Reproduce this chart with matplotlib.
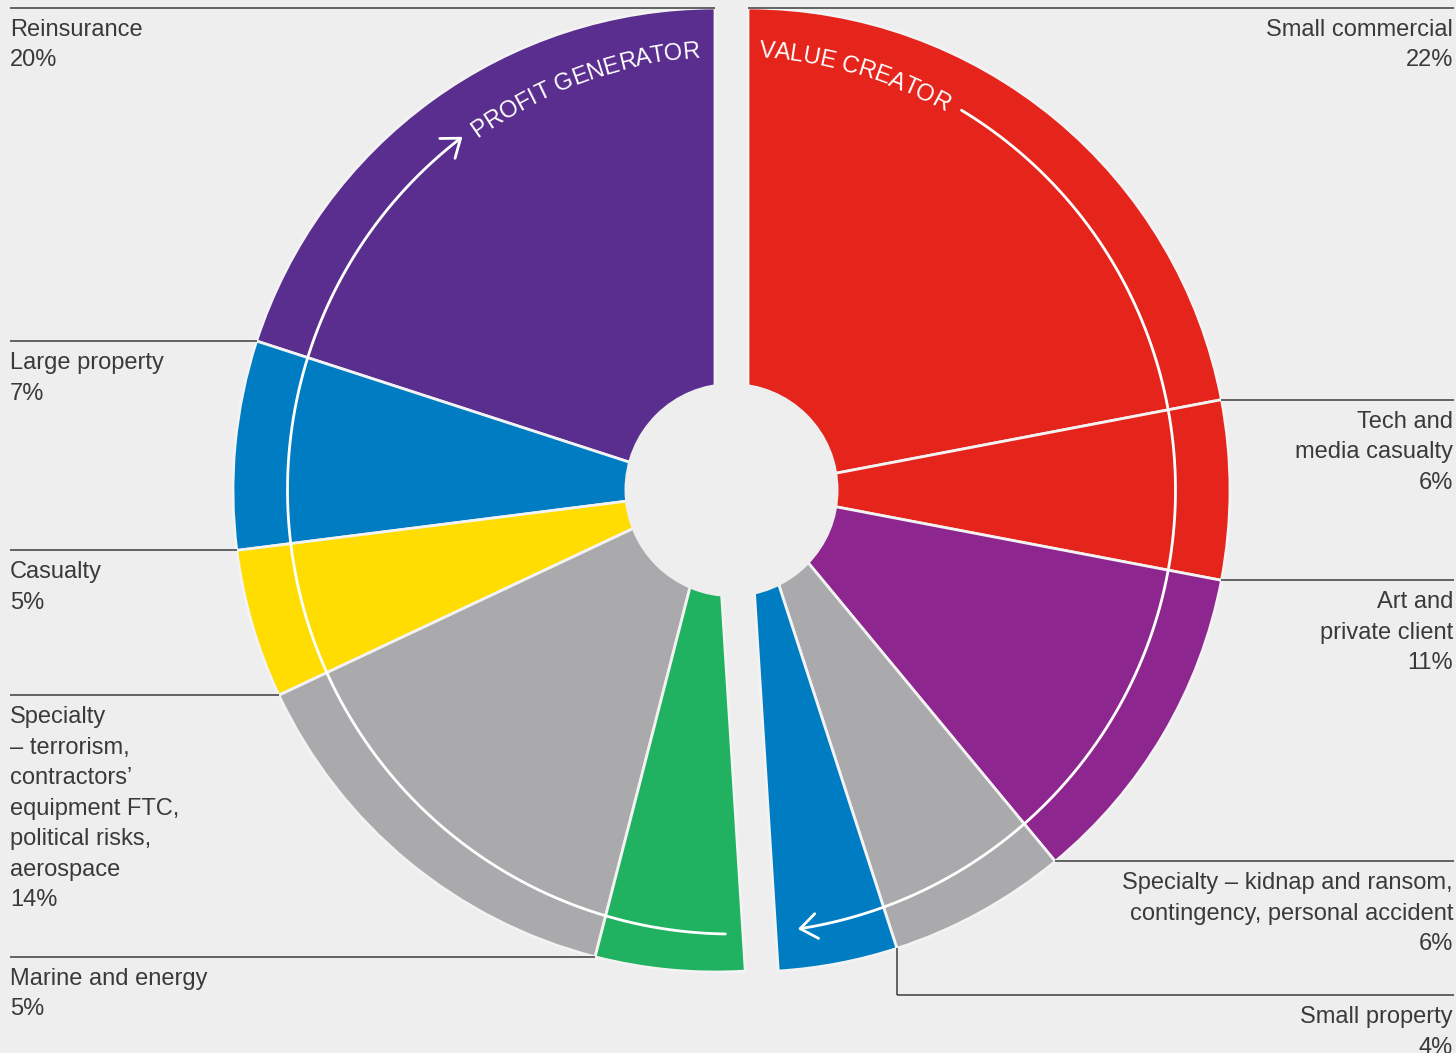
import numpy as np
import matplotlib
matplotlib.use("Agg")
import matplotlib.pyplot as plt
from matplotlib.patches import Circle, FancyArrowPatch
from matplotlib.path import Path
from matplotlib.font_manager import FontProperties

# Value creator half, read clockwise from twelve o'clock
right_names = ["Small commercial",
               "Tech and\nmedia casualty",
               "Art and\nprivate client",
               "Specialty – kidnap and ransom,\ncontingency, personal accident",
               "Small property"]
right_share = [22, 6, 11, 6, 4]
right_colors = ["#E5241B", "#E5241B", "#8E2690", "#AAAAAC", "#007CC3"]

# Profit generator half, read anticlockwise from twelve o'clock
left_names = ["Reinsurance",
              "Large property",
              "Casualty",
              "Specialty\n– terrorism,\ncontractors’\nequipment FTC,\npolitical risks,\naerospace",
              "Marine and energy"]
left_share = [20, 7, 5, 14, 5]
left_colors = ["#5A2E8E", "#007CC3", "#FFDD00", "#AAAAAC", "#21B261"]

right_title = "VALUE CREATOR"
left_title = "PROFIT GENERATOR"

# ---- layout (pixel units, y pointing up) ----
W, H = 1456, 1053
BG = "#EEEEEE"
SEP = "#F3F3F3"
INK = "#3A3A3A"
RULE = "#3C3C3C"
CX, CY = 731.5, 563.0
SHIFT = 16.5
R_OUT = 482
R_HOLE = 107
R_ARC = 444
FAMILY = ["Liberation Sans", "DejaVu Sans"]
FS = 17
LSP = 1.5

fig = plt.figure(figsize=(W / 100, H / 100), dpi=100, facecolor=BG)
ax = fig.add_axes([0, 0, 1, 1])
ax.set_facecolor(BG)

wp = dict(edgecolor=SEP, linewidth=2.0)
ax.pie(np.array(right_share) / 100, radius=R_OUT, center=(CX + SHIFT, CY),
       startangle=90, counterclock=False, normalize=False,
       colors=right_colors, wedgeprops=wp)
ax.pie(np.array(left_share) / 100, radius=R_OUT, center=(CX - SHIFT, CY),
       startangle=90, counterclock=True, normalize=False,
       colors=left_colors, wedgeprops=wp)

ax.add_patch(Circle((CX, CY), R_HOLE, facecolor=BG, edgecolor="none", zorder=3))

ax.set_xlim(0, W)
ax.set_ylim(0, H)
ax.set_aspect("equal")
ax.axis("off")

text_kw = dict(fontsize=FS, family=FAMILY, color=INK, linespacing=LSP, va="top", zorder=6)

# ---- right-hand labels with leader rules ----
starts = np.concatenate([[0], np.cumsum(right_share)[:-1]])
for i, (name, share, s) in enumerate(zip(right_names, right_share, starts)):
    a = np.radians(s * 3.6)
    px = CX + SHIFT + R_OUT * np.sin(a)
    py = CY + R_OUT * np.cos(a)
    if i == len(right_names) - 1:
        ly = 58
        ax.plot([px, px], [py, ly], color=RULE, lw=1.1, zorder=5, solid_capstyle="butt")
        py = ly
    ax.plot([px, W - 2], [py, py], color=RULE, lw=1.1, zorder=5, solid_capstyle="butt")
    ax.text(W - 3, py - 11, f"{name}\n{share}%", ha="right", multialignment="right", **text_kw)

# ---- left-hand labels with leader rules ----
starts = np.concatenate([[0], np.cumsum(left_share)[:-1]])
for name, share, s in zip(left_names, left_share, starts):
    a = np.radians(s * 3.6)
    px = CX - SHIFT - R_OUT * np.sin(a)
    py = CY + R_OUT * np.cos(a)
    ax.plot([10, px], [py, py], color=RULE, lw=1.1, zorder=5, solid_capstyle="butt")
    ax.text(10, py - 11, f"{name}\n{share}%", ha="left", multialignment="left", **text_kw)


# ---- circular arrows ----
def arc_path(a0, a1, r, n=240):
    t = np.radians(np.linspace(a0, a1, n))
    return Path(np.column_stack([CX + r * np.sin(t), CY + r * np.cos(t)]))


for a0, a1 in [(31.2, 171.4), (-179.2, -37.3)]:
    ax.add_patch(FancyArrowPatch(path=arc_path(a0, a1, R_ARC),
                                 arrowstyle="->,head_length=0.6,head_width=0.45",
                                 mutation_scale=20, color="white", lw=2.0,
                                 shrinkA=0, shrinkB=0, zorder=4))

# ---- text set along the arc ----
renderer = fig.canvas.get_renderer()
fp = FontProperties(family=FAMILY, size=FS)


def curved(text, start, r):
    widths = [renderer.get_text_width_height_descent(text[:k], fp, ismath=False)[0]
              if k else 0.0 for k in range(len(text) + 1)]
    for k, ch in enumerate(text):
        if ch == " ":
            continue
        mid = 0.5 * (widths[k] + widths[k + 1])
        ang = start + np.degrees(mid / r)
        t = np.radians(ang)
        ax.text(CX + r * np.sin(t), CY + r * np.cos(t), ch, fontproperties=fp,
                color="white", rotation=-ang, rotation_mode="anchor",
                ha="center", va="baseline", zorder=6)


curved(right_title, 3.6, 434)
curved(left_title, -35.8, 434)

fig.savefig("out.png", dpi=100, facecolor=BG)
